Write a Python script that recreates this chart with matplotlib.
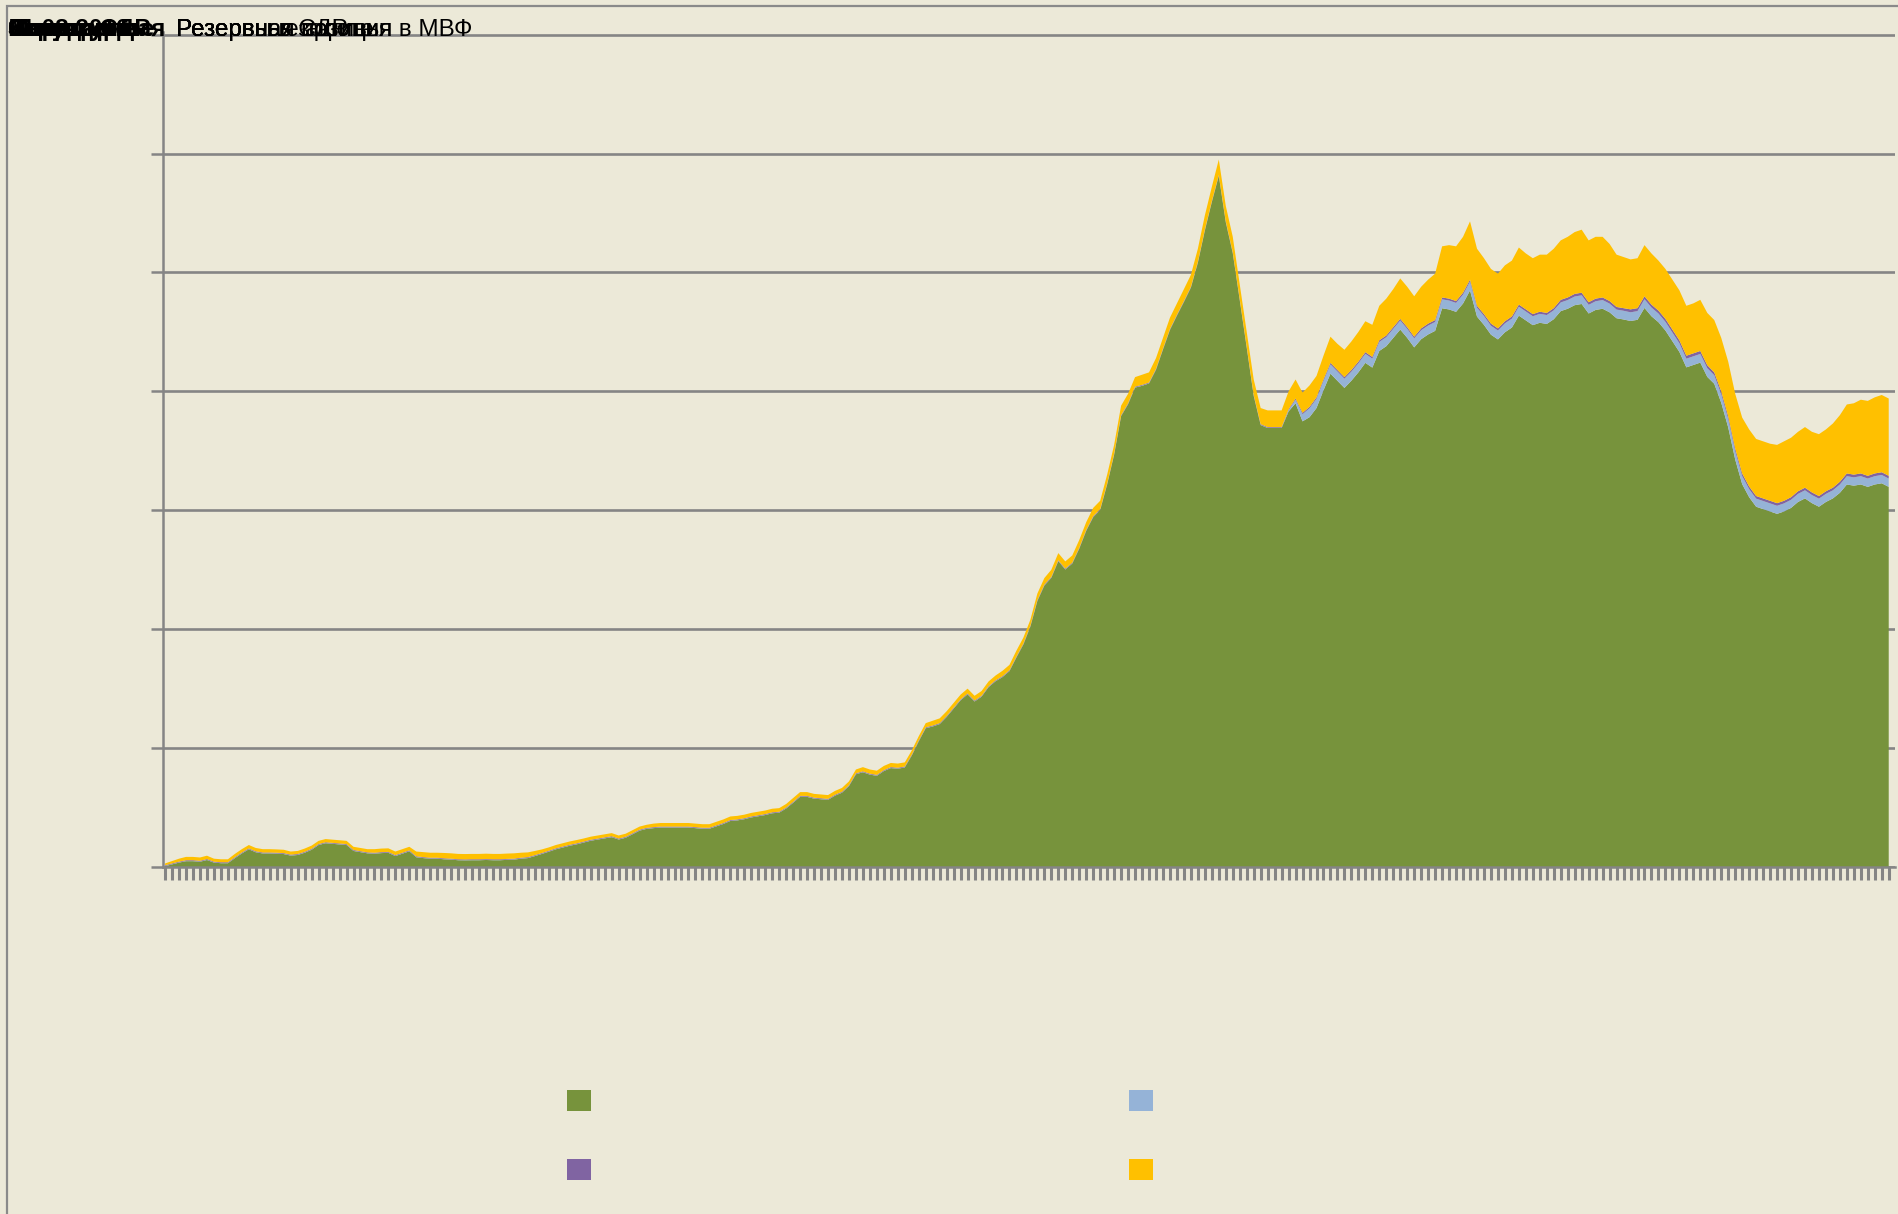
import numpy as np
import matplotlib
matplotlib.use("Agg")
import matplotlib.pyplot as plt
import matplotlib.patches as mpatches

# Международные резервы, млрд долл. (помесячно), слои снизу вверх
green = [
    0.7, 2.2, 3.7, 4.9, 4.9, 4.4, 5.9, 3.7, 3.2, 3.2,
    7.4, 11.4, 14.9, 12.4, 11.4, 11.4, 11.2, 10.9, 9.6, 10.1,
    12.0, 14.5, 18.5, 20.0, 19.5, 19.0, 18.5, 13.5, 12.5, 11.5,
    11.2, 11.7, 11.9, 9.2, 11.2, 13.2, 8.2, 7.5, 7.0, 7.0,
    6.5, 6.2, 5.7, 5.6, 5.7, 5.7, 5.9, 5.7, 5.7, 6.0,
    6.2, 7.0, 7.5, 9.2, 11.0, 12.9, 14.9, 16.4, 17.9, 19.1,
    20.6, 22.1, 23.1, 24.1, 25.1, 23.1, 24.6, 27.6, 30.6, 32.1,
    32.7, 33.2, 33.2, 33.2, 33.2, 33.2, 32.7, 32.2, 32.2, 34.2,
    36.2, 38.7, 39.2, 40.2, 41.7, 42.7, 43.7, 45.2, 45.7, 49.2,
    54.0, 59.0, 59.0, 57.5, 57.0, 56.5, 60.0, 62.5, 68.0, 78.0,
    79.7, 77.7, 76.7, 80.7, 83.2, 82.7, 83.7, 93.7, 105.7, 116.7,
    118.2, 120.2, 126.2, 133.2, 140.2, 145.2, 139.2, 143.2, 151.2, 156.2,
    159.7, 164.7, 176.2, 187.2, 202.2, 223.7, 236.7, 243.2, 257.2, 250.2,
    255.2, 267.7, 282.7, 294.2, 300.2, 321.7, 346.7, 379.2, 389.2, 403.2,
    404.7, 406.7, 418.2, 435.2, 451.7, 463.7, 475.2, 487.2, 508.2, 535.2,
    559.2, 581.2, 542.2, 516.2, 476.7, 436.7, 396.2, 371.7, 369.2, 369.2,
    369.2, 383.2, 390.0, 374.8, 378.3, 386.0, 400.9, 414.9, 408.9, 402.9,
    409.0, 416.0, 424.0, 420.0, 434.0, 438.0, 445.0, 452.0, 445.0, 437.0,
    443.9, 447.9, 450.9, 469.9, 468.9, 466.9, 473.9, 484.9, 462.9, 455.9,
    447.7, 443.7, 449.7, 453.7, 463.7, 459.7, 455.7, 457.7, 456.7, 460.7,
    467.5, 469.5, 472.5, 473.5, 465.5, 468.5, 469.5, 466.5, 461.5, 460.5,
    459.2, 460.2, 470.2, 463.2, 458.2, 451.2, 442.2, 433.2, 420.2, 422.2,
    424.2, 412.2, 406.4, 390.4, 369.7, 342.7, 322.0, 311.0, 303.0, 301.0,
    299.0, 297.0, 299.0, 302.0, 307.0, 310.0, 306.0, 303.0, 307.0, 310.0,
    314.7, 321.7, 320.7, 321.7, 319.7, 321.7, 322.7, 319.7,
]

sdr = [
    0.2, 0.2, 0.2, 0.2, 0.2, 0.2, 0.2, 0.2, 0.2, 0.2,
    0.2, 0.2, 0.2, 0.2, 0.2, 0.2, 0.2, 0.2, 0.2, 0.2,
    0.2, 0.2, 0.2, 0.2, 0.2, 0.2, 0.2, 0.2, 0.2, 0.2,
    0.2, 0.2, 0.2, 0.2, 0.2, 0.2, 0.2, 0.2, 0.2, 0.2,
    0.2, 0.2, 0.2, 0.2, 0.2, 0.2, 0.2, 0.2, 0.2, 0.2,
    0.2, 0.2, 0.2, 0.2, 0.2, 0.2, 0.2, 0.2, 0.2, 0.2,
    0.2, 0.2, 0.2, 0.2, 0.2, 0.2, 0.2, 0.2, 0.2, 0.2,
    0.2, 0.2, 0.2, 0.2, 0.2, 0.2, 0.2, 0.2, 0.2, 0.2,
    0.2, 0.2, 0.2, 0.2, 0.2, 0.2, 0.2, 0.2, 0.2, 0.2,
    0.2, 0.2, 0.2, 0.2, 0.2, 0.2, 0.2, 0.2, 0.2, 0.2,
    0.2, 0.2, 0.2, 0.2, 0.2, 0.2, 0.2, 0.2, 0.2, 0.2,
    0.2, 0.2, 0.2, 0.2, 0.2, 0.2, 0.2, 0.2, 0.2, 0.2,
    0.2, 0.2, 0.2, 0.2, 0.2, 0.2, 0.2, 0.2, 0.2, 0.2,
    0.2, 0.2, 0.2, 0.2, 0.2, 0.2, 0.2, 0.2, 0.2, 0.2,
    0.2, 0.2, 0.2, 0.2, 0.2, 0.2, 0.2, 0.2, 0.2, 0.2,
    0.2, 0.2, 0.2, 0.2, 0.2, 0.2, 0.2, 0.2, 0.2, 0.2,
    0.2, 1.0, 3.0, 6.0, 7.5, 7.8, 7.8, 7.8, 7.8, 7.8,
    7.6, 7.6, 7.6, 7.6, 7.6, 7.6, 7.6, 7.6, 7.6, 7.6,
    7.5, 7.5, 7.5, 7.5, 7.5, 7.5, 7.5, 7.5, 7.5, 7.5,
    7.5, 7.5, 7.5, 7.5, 7.5, 7.5, 7.5, 7.5, 7.5, 7.5,
    7.3, 7.3, 7.3, 7.3, 7.3, 7.3, 7.3, 7.3, 7.3, 7.3,
    7.3, 7.3, 7.3, 7.3, 7.3, 7.3, 7.3, 7.3, 7.3, 7.3,
    7.3, 7.3, 7.2, 7.2, 7.0, 7.0, 6.8, 6.8, 6.8, 6.8,
    6.8, 6.8, 6.8, 6.8, 6.8, 6.8, 6.8, 6.8, 6.8, 6.8,
    7.0, 7.0, 7.0, 7.0, 7.0, 7.0, 7.0, 7.0,
]

imf_position = [
    0.6, 0.6, 0.6, 0.6, 0.6, 0.6, 0.6, 0.6, 0.6, 0.6,
    0.6, 0.6, 0.6, 0.6, 0.6, 0.6, 0.6, 0.6, 0.6, 0.6,
    0.6, 0.6, 0.6, 0.6, 0.6, 0.6, 0.6, 0.6, 0.6, 0.6,
    0.6, 0.6, 0.6, 0.6, 0.6, 0.6, 0.6, 0.6, 0.6, 0.6,
    0.6, 0.6, 0.6, 0.6, 0.6, 0.6, 0.6, 0.6, 0.6, 0.6,
    0.6, 0.6, 0.6, 0.6, 0.6, 0.6, 0.6, 0.6, 0.6, 0.6,
    0.6, 0.6, 0.6, 0.6, 0.6, 0.6, 0.6, 0.6, 0.6, 0.6,
    0.6, 0.6, 0.6, 0.6, 0.6, 0.6, 0.6, 0.6, 0.6, 0.6,
    0.6, 0.6, 0.6, 0.6, 0.6, 0.6, 0.6, 0.6, 0.6, 0.6,
    0.6, 0.6, 0.6, 0.6, 0.6, 0.6, 0.6, 0.6, 0.6, 0.6,
    0.6, 0.6, 0.6, 0.6, 0.6, 0.6, 0.6, 0.6, 0.6, 0.6,
    0.6, 0.6, 0.6, 0.6, 0.6, 0.6, 0.6, 0.6, 0.6, 0.6,
    0.6, 0.6, 0.6, 0.6, 0.6, 0.6, 0.6, 0.6, 0.6, 0.6,
    0.6, 0.6, 0.6, 0.6, 0.6, 0.6, 0.6, 0.6, 0.6, 0.6,
    0.6, 0.6, 0.6, 0.6, 0.6, 0.6, 0.6, 0.6, 0.6, 0.6,
    0.6, 0.6, 0.6, 0.6, 0.6, 0.6, 0.6, 0.6, 0.6, 0.6,
    0.6, 0.8, 1.0, 1.2, 1.2, 1.2, 1.3, 1.3, 1.3, 1.3,
    1.4, 1.4, 1.4, 1.4, 1.4, 1.4, 1.4, 1.4, 1.4, 1.4,
    1.6, 1.6, 1.6, 1.6, 1.6, 1.6, 1.6, 1.6, 1.6, 1.6,
    1.8, 1.8, 1.8, 1.8, 1.8, 1.8, 1.8, 1.8, 1.8, 1.8,
    2.2, 2.2, 2.2, 2.2, 2.2, 2.2, 2.2, 2.2, 2.2, 2.2,
    2.5, 2.5, 2.5, 2.5, 2.5, 2.5, 2.5, 2.5, 2.5, 2.5,
    2.5, 2.5, 2.4, 2.4, 2.3, 2.3, 2.2, 2.2, 2.2, 2.2,
    2.2, 2.2, 2.2, 2.2, 2.2, 2.2, 2.2, 2.2, 2.2, 2.2,
    2.3, 2.3, 2.3, 2.3, 2.3, 2.3, 2.3, 2.3,
]

gold = [
    1.5, 2.0, 2.5, 2.8, 2.8, 2.8, 2.8, 2.5, 2.5, 2.5,
    2.8, 2.8, 2.8, 2.8, 2.8, 2.8, 2.8, 2.8, 2.6, 2.6,
    2.7, 2.7, 2.7, 2.7, 2.7, 2.7, 2.7, 2.7, 2.7, 2.7,
    3.0, 3.0, 3.0, 3.0, 3.0, 3.0, 4.0, 4.2, 4.2, 4.2,
    4.5, 4.5, 4.5, 4.5, 4.5, 4.5, 4.5, 4.5, 4.5, 4.5,
    4.5, 4.2, 4.0, 3.5, 3.0, 2.8, 2.8, 2.8, 2.8, 2.8,
    2.6, 2.6, 2.6, 2.6, 2.6, 2.6, 2.6, 2.6, 2.6, 2.6,
    3.0, 3.0, 3.0, 3.0, 3.0, 3.0, 3.0, 3.0, 3.0, 3.0,
    3.0, 3.0, 3.0, 3.0, 3.0, 3.0, 3.0, 3.0, 3.0, 3.0,
    3.2, 3.2, 3.2, 3.2, 3.2, 3.2, 3.2, 3.2, 3.2, 3.2,
    3.5, 3.5, 3.5, 3.5, 3.5, 3.5, 3.5, 3.5, 3.5, 3.5,
    4.0, 4.0, 4.0, 4.0, 4.0, 4.0, 4.0, 4.0, 4.0, 4.0,
    4.5, 4.5, 5.0, 5.0, 5.0, 5.5, 5.5, 6.0, 6.0, 6.0,
    6.0, 6.5, 6.5, 7.0, 7.0, 7.5, 7.5, 8.0, 8.0, 8.0,
    8.5, 8.5, 9.0, 9.0, 9.5, 9.5, 10.0, 10.0, 11.0, 12.0,
    12.0, 13.0, 13.0, 13.0, 12.5, 12.5, 13.0, 13.5, 14.0, 14.0,
    14.0, 15.0, 16.0, 17.0, 18.0, 18.0, 20.0, 22.0, 22.0, 23.0,
    24.0, 25.0, 26.0, 27.0, 29.0, 31.0, 32.0, 34.0, 34.0, 34.0,
    35.0, 37.0, 39.0, 43.0, 45.0, 46.0, 47.0, 49.0, 48.0, 47.0,
    46.0, 46.0, 47.0, 47.0, 48.0, 47.0, 47.0, 48.0, 49.0, 50.0,
    50.0, 51.0, 52.0, 53.0, 52.0, 52.0, 51.0, 48.0, 44.0, 43.0,
    42.0, 42.0, 43.0, 43.0, 42.0, 42.0, 42.0, 42.0, 42.0, 42.0,
    43.0, 44.0, 44.0, 45.0, 46.0, 46.0, 47.0, 48.0, 48.0, 48.0,
    48.0, 49.0, 50.0, 50.0, 50.0, 51.0, 51.0, 52.0, 52.0, 54.0,
    56.0, 58.0, 60.0, 62.0, 63.0, 64.0, 65.0, 65.0,
]

colors = ["#77933C", "#95B3D7", "#8064A2", "#FFC000"]
# заголовки в исходном слайде наложены друг на друга
titles = ["Иностранная", "Монетарное", "01.08.2016", "млрд долл.", "Всего",
          "Структура", "Валютные", "Золото СДР"]
titles_r = ["Резервная позиция в МВФ", "Резервы в СДР", "Резервные активы",
            "Резервы в золоте", "Резервная позиция"]

W, H = 1899, 1214
bg = "#ECE9D8"
grey = "#858585"

fig = plt.figure(figsize=(W / 100, H / 100), dpi=100, facecolor=bg)
ax = fig.add_axes([163 / W, 1 - 867 / H, (1895 - 163) / W, (867 - 32.3) / H])
ax.set_facecolor(bg)

x = np.arange(len(green))
ax.stackplot(x, green, sdr, imf_position, gold, colors=colors, linewidth=0, zorder=2)

ax.set_xlim(-0.3, len(green) - 0.1)
ax.set_ylim(0, 702)
ax.set_yticks(np.arange(0, 701, 100))
ax.set_xticks(x)
ax.set_xticklabels([])
ax.set_yticklabels([])
ax.grid(axis="y", color=grey, linewidth=1.9, zorder=0)
ax.set_axisbelow(True)
ax.tick_params(axis="x", direction="out", length=9.5, width=2.2, color=grey)
ax.tick_params(axis="y", direction="out", length=8.5, width=1.8, color=grey)
for side in ["top", "right"]:
    ax.spines[side].set_visible(False)
for side in ["left", "bottom"]:
    ax.spines[side].set_color(grey)
    ax.spines[side].set_linewidth(1.8)
    ax.spines[side].set_zorder(3)

# рамка области диаграммы
fig.add_artist(mpatches.Rectangle((7 / W, -0.01), 1.0, 0.01 + 1 - 6 / H,
                                  transform=fig.transFigure, fill=False,
                                  edgecolor="#8A8A8A", linewidth=1.6))

for t in titles:
    fig.text(8 / W, 1 - 36 / H, t, fontsize=17.5, fontweight="bold",
             family="Liberation Sans", color="black", va="baseline")
for t in titles_r:
    fig.text(176 / W, 1 - 36 / H, t, fontsize=17.5,
             family="Liberation Sans", color="black", va="baseline")

handles = [mpatches.Patch(facecolor=colors[0], edgecolor="none"),
           mpatches.Patch(facecolor=colors[2], edgecolor="none"),
           mpatches.Patch(facecolor=colors[1], edgecolor="none"),
           mpatches.Patch(facecolor=colors[3], edgecolor="none")]
fig.legend(handles, ["", "", "", ""], ncol=2, frameon=False, fontsize=16,
           loc="upper left", bbox_to_anchor=(567 / W, 1 - 1090 / H),
           borderpad=0, borderaxespad=0, handlelength=1.08, handleheight=1.08,
           handletextpad=0, columnspacing=24.2, labelspacing=2.13)

fig.savefig("out.png", dpi=100, facecolor=bg)
